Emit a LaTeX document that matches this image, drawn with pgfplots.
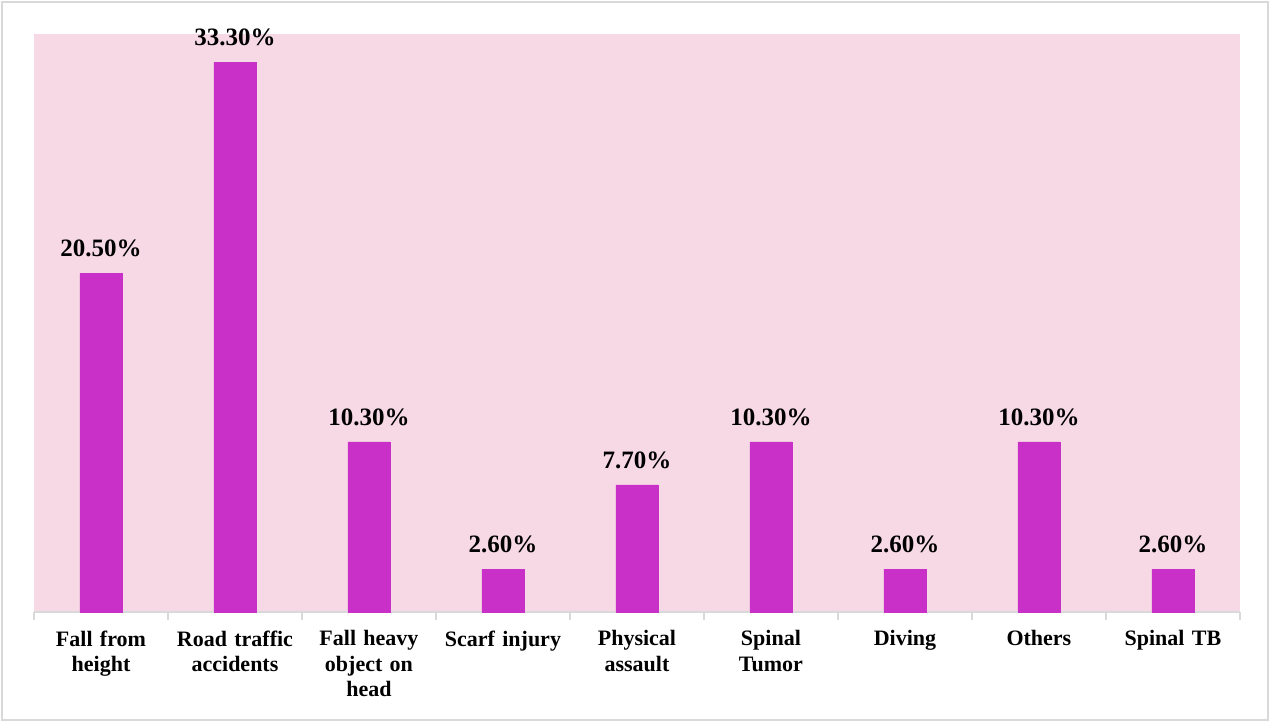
\documentclass[border=0pt]{standalone}
\usepackage{pgfplots}
\pgfplotsset{compat=1.18}
\usepackage{fontspec}
\setmainfont{Liberation Serif}
\definecolor{pinkbg}{RGB}{246,217,228}
\definecolor{barcol}{RGB}{200,48,200}
\definecolor{framegray}{RGB}{217,217,217}
\begin{document}
\begin{tikzpicture}[x=1pt,y=1pt]
\path[fill=white] (0,0) rectangle (1271,722);
\draw[framegray, line width=1.5pt] (2,2) rectangle (1268,720);
\begin{axis}[
  at={(34pt,110pt)}, anchor=south west,
  scale only axis, width=1206pt, height=578pt,
  xmin=-0.5, xmax=8.5, ymin=0, ymax=35,
  axis background/.style={fill=pinkbg},
  axis x line*=bottom, axis y line=none,
  x axis line style={framegray, line width=1.5pt},
  xtick={0,...,8},
  xticklabels={{Fall from\\height},{Road traffic\\accidents},{Fall heavy\\object on\\head},{Scarf injury},{Physical\\assault},{Spinal\\Tumor},{Diving},{Others},{Spinal TB}},
  major tick length=0pt,
  minor xtick={-0.5,0.5,...,8.5},
  minor tick length=8pt,
  tick align=outside,
  minor tick style={framegray, line width=1.5pt},
  xticklabel style={font=\fontsize{22}{25.5}\selectfont\bfseries, text width=134pt, align=center, anchor=north, yshift=-15pt},
  ytick=\empty,
  clip=false,
]
\addplot[ybar, bar width=42pt, fill=barcol, draw=barcol,
  nodes near coords={\pgfmathprintnumber[fixed,fixed zerofill,precision=2,assume math mode=true]{\pgfplotspointmeta}\%},
  nodes near coords style={font=\fontsize{25}{28}\selectfont\bfseries, anchor=south, inner sep=0pt, yshift=16pt, text=black},
] coordinates {(0,20.5) (1,33.3) (2,10.3) (3,2.6) (4,7.7) (5,10.3) (6,2.6) (7,10.3) (8,2.6)};
\end{axis}
\end{tikzpicture}
\end{document}
